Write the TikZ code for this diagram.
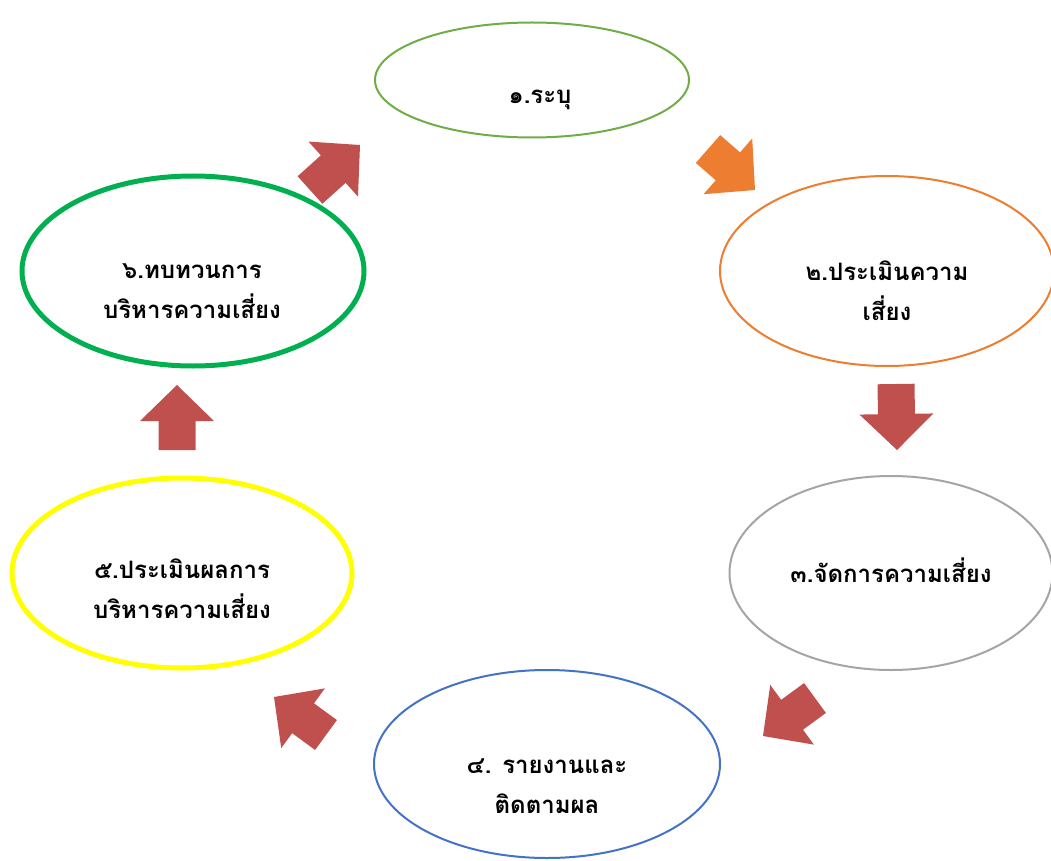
\documentclass[tikz,border=0pt]{standalone}
\usepackage{fontspec}
\newfontfamily\thaifont[Script=Thai]{Loma}
\usepackage{tikz}
\usetikzlibrary{shapes.geometric,calc}

\definecolor{redarrow}{HTML}{C0504D}
\definecolor{orangearrow}{HTML}{ED7D31}
\definecolor{lineA}{HTML}{70AD47}
\definecolor{lineB}{HTML}{ED7D31}
\definecolor{lineC}{HTML}{A5A5A5}
\definecolor{lineD}{HTML}{4472C4}
\definecolor{lineE}{HTML}{FFFF00}
\definecolor{lineF}{HTML}{00B050}

% block arrow from #1 (tail) to #2 (tip), filled with #3
\newcommand{\blockarrow}[3]{%
  \coordinate (bh) at ($(#2)!36pt!(#1)$);
  \fill[#3] ($(#1)!18.5pt!90:(#2)$) -- ($(bh)!18.5pt!90:(#2)$) -- ($(bh)!37pt!90:(#2)$)
    -- (#2) -- ($(bh)!37pt!-90:(#2)$) -- ($(bh)!18.5pt!-90:(#2)$) -- ($(#1)!18.5pt!-90:(#2)$) -- cycle;
}

\begin{document}
\begin{tikzpicture}[x=1pt,y=-1pt]
  \tikzstyle{box}=[ellipse,fill=white,inner sep=0pt,line width=2pt]
  \tikzstyle{txt}=[align=center,font=\thaifont\bfseries\fontsize{24}{40}\selectfont]

  \useasboundingbox (0,0) rectangle (1051,861);

  \node[box,draw=lineA,minimum width=314pt,minimum height=115pt] (A) at (532,80)  {};
  \node[box,draw=lineB,minimum width=334pt,minimum height=190pt] (B) at (887,271) {};
  \node[box,draw=lineC,minimum width=323pt,minimum height=194pt] (C) at (891,573) {};
  \node[box,draw=lineD,minimum width=346pt,minimum height=188pt] (D) at (547,764) {};
  \node[box,draw=lineE,line width=5pt,minimum width=340pt,minimum height=190pt] (E) at (182,573) {};
  \node[box,draw=lineF,line width=5pt,minimum width=342pt,minimum height=190pt] (F) at (193,271) {};

  \node[txt] (At) at (540,100) {๑.ระบุ};
  \node[txt] (Bt) at (887,291) {๒.ประเมินความ\\เสี่ยง};
  \node[txt] (Ct) at (891,570) {๓.จัดการความเสี่ยง};
  \node[txt] (Dt) at (547,786) {๔. รายงานและ\\ติดตามผล};
  \node[txt] (Et) at (182,589) {๕.ประเมินผลการ\\บริหารความเสี่ยง};
  \node[txt] (Ft) at (192,291) {๖.ทบทวนการ\\บริหารความเสี่ยง};

  \coordinate (FAs) at (310,190); \coordinate (FAt) at (360,145);
  \coordinate (ABs) at (708,149); \coordinate (ABt) at (755,190);
  \coordinate (BCs) at (896,384); \coordinate (BCt) at (897,450);
  \coordinate (CDs) at (815,698); \coordinate (CDt) at (763,736);
  \coordinate (DEs) at (326,735); \coordinate (DEt) at (274,697);
  \coordinate (EFs) at (177,450); \coordinate (EFt) at (177,385);

  \blockarrow{FAs}{FAt}{redarrow}
  \blockarrow{ABs}{ABt}{orangearrow}
  \blockarrow{BCs}{BCt}{redarrow}
  \blockarrow{CDs}{CDt}{redarrow}
  \blockarrow{DEs}{DEt}{redarrow}
  \blockarrow{EFs}{EFt}{redarrow}
\end{tikzpicture}
\end{document}
